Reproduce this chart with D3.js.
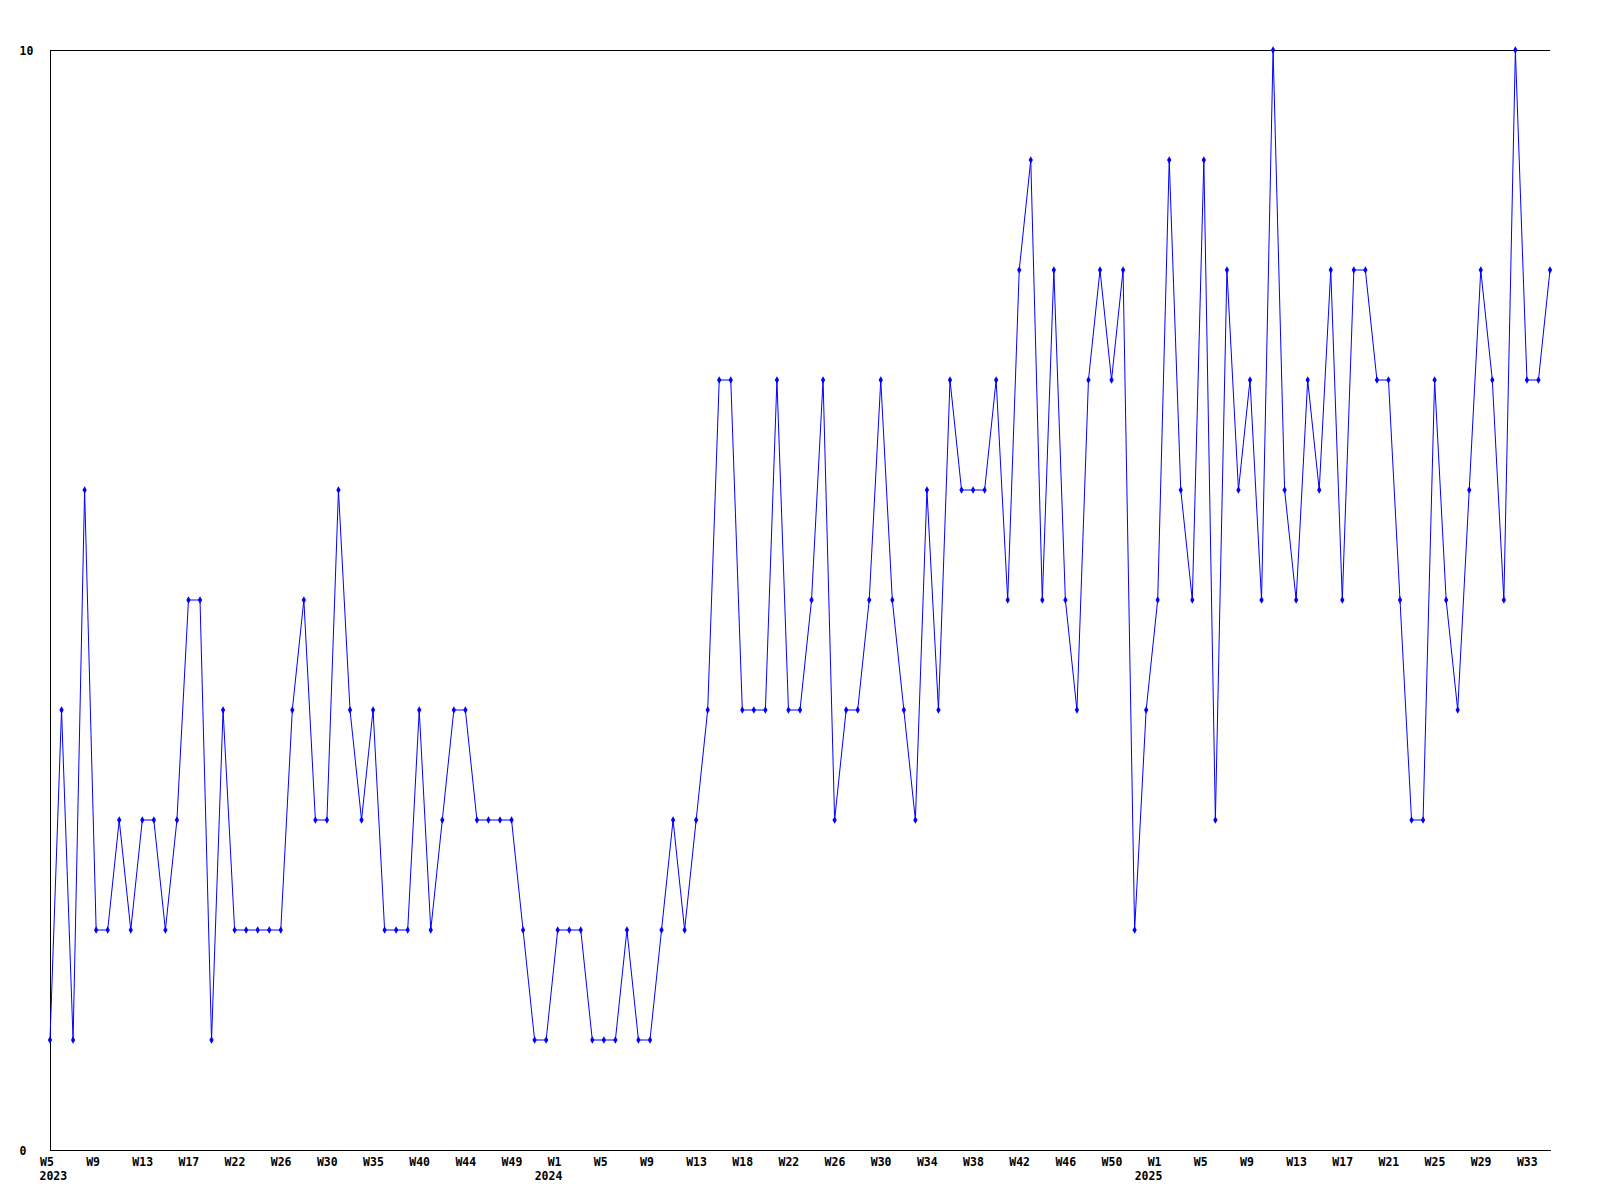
<!DOCTYPE html>
<html>
<head>
<meta charset="utf-8">
<script src="https://cdn.jsdelivr.net/npm/d3@7"></script>
<style>
  html, body { margin: 0; padding: 0; background: #fff; }
  svg { display: block; }
  text { font-family: "DejaVu Sans Mono", "Liberation Mono", monospace; font-weight: bold; font-size: 11.5px; fill: #000; }
</style>
</head>
<body>
<svg id="chart" width="1600" height="1200"></svg>
<script>
// Weekly values, first point = 2023 W5
const values = [
  1,4,1,6,2,2,3,2,3,3,2,3,5,5,1,4,2,2,2,2,
  2,4,5,3,3,6,4,3,4,2,2,2,4,2,3,4,4,3,3,3,
  3,2,1,1,2,2,2,1,1,1,2,1,1,2,3,2,3,4,7,7,
  4,4,4,7,4,4,5,7,3,4,4,5,7,5,4,3,6,4,7,6,
  6,6,7,5,8,9,5,8,5,4,7,8,7,8,2,4,5,9,6,5,
  9,3,8,6,7,5,10,6,5,7,6,8,5,8,8,7,7,5,3,3,
  7,5,4,6,8,7,5,10,7,7,8
];
// Week tick labels, one for every 4th point
const weekTicks = ["W5","W9","W13","W17","W22","W26","W30","W35","W40","W44","W49",
  "W1","W5","W9","W13","W18","W22","W26","W30","W34","W38","W42","W46","W50",
  "W1","W5","W9","W13","W17","W21","W25","W29","W33"];
// Year labels, shown under the week tick at which each year starts
const yearTicks = [
  { tick: 0, label: "2023" },
  { tick: 11, label: "2024" },
  { tick: 24, label: "2025" }
];
const yTicks = [0, 10];

const margin = { left: 50, right: 50, top: 50, bottom: 50 };
const W = 1600, H = 1200;
const svg = d3.select("#chart");
svg.append("rect").attr("width", W).attr("height", H).attr("fill", "#fff");

const x = d3.scaleLinear().domain([0, values.length - 1]).range([margin.left, W - margin.right]);
const y = d3.scaleLinear().domain([0, 10]).range([H - margin.bottom, margin.top]);

const tickEvery = 4;

// top border
svg.append("line")
  .attr("x1", x(0)).attr("x2", x(values.length - 1))
  .attr("y1", y(10) + 0.5).attr("y2", y(10) + 0.5)
  .attr("stroke", "#000").attr("shape-rendering", "crispEdges");

// bottom axis
const xAxis = d3.axisBottom(x)
  .tickValues(weekTicks.map((_, i) => i * tickEvery))
  .tickFormat(d => weekTicks[d / tickEvery])
  .tickSize(0).tickSizeOuter(0);
const gx = svg.append("g").attr("transform", `translate(0,${y(0)})`).call(xAxis);
gx.select(".domain").attr("stroke", "#000").attr("shape-rendering", "crispEdges");
gx.selectAll("text")
  .attr("text-anchor", "start")
  .attr("x", -10.5).attr("y", 16).attr("dy", 0)
  .attr("fill", "#000").style("font-size", null).style("font-family", null);
gx.attr("font-size", null).attr("font-family", null);

// year labels
svg.append("g").selectAll("text").data(yearTicks).join("text")
  .attr("x", d => Math.max(margin.left - 10.5, x(d.tick * tickEvery) - 23))
  .attr("y", y(0) + 30)
  .text(d => d.label);

// left axis
const yAxis = d3.axisLeft(y).tickValues(yTicks).tickFormat(d3.format("d")).tickSize(0).tickSizeOuter(0);
const gy = svg.append("g").attr("transform", `translate(${x(0)},0)`).call(yAxis);
gy.select(".domain").attr("stroke", "#000").attr("shape-rendering", "crispEdges");
gy.selectAll("text")
  .attr("text-anchor", "start")
  .attr("x", 19.5 - margin.left).attr("dy", "0.35em")
  .attr("fill", "#000");
gy.attr("font-size", null).attr("font-family", null);

// line
const line = d3.line().x((d, i) => x(i)).y(d => y(d));
svg.append("path")
  .datum(values)
  .attr("d", line)
  .attr("fill", "none")
  .attr("stroke", "#0000ff")
  .attr("stroke-width", 1);

// markers
svg.append("g").selectAll("path").data(values).join("path")
  .attr("transform", (d, i) => `translate(${x(i)},${y(d)})`)
  .attr("d", d3.symbol(d3.symbolDiamond, 16))
  .attr("fill", "#0000ff");
</script>
</body>
</html>
